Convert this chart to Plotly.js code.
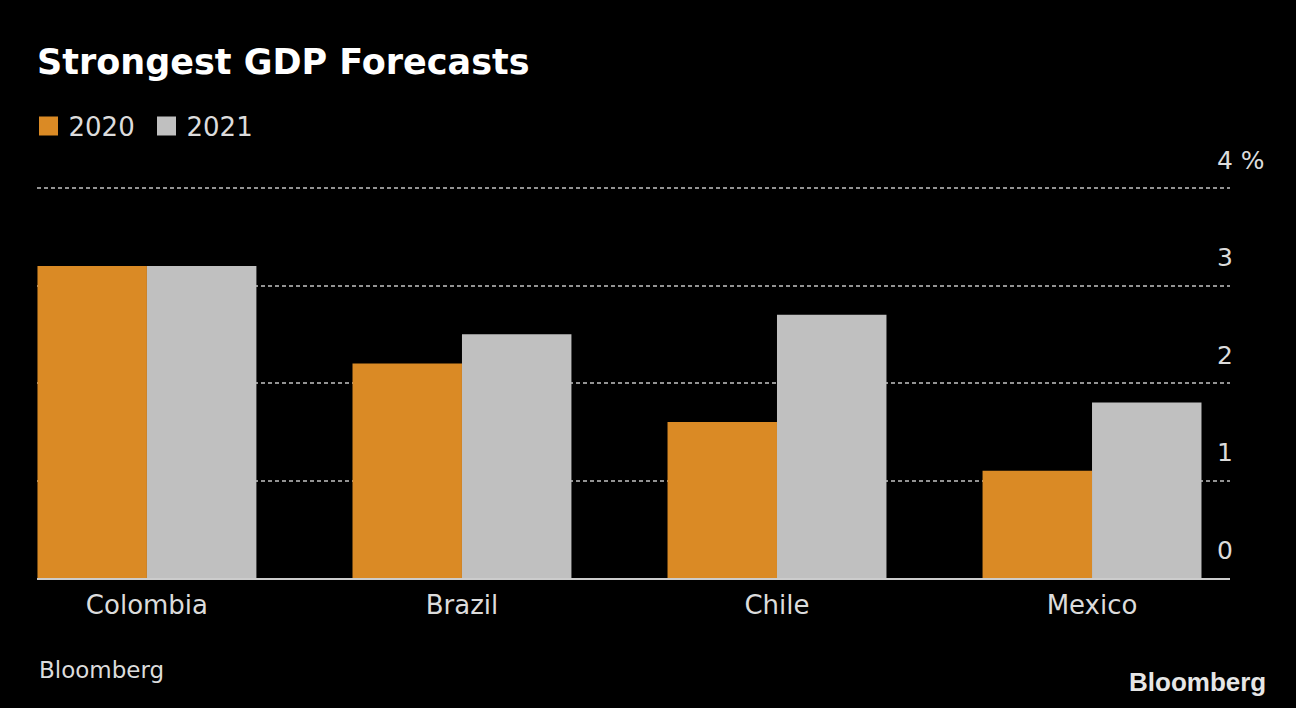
<!DOCTYPE html>
<html>
<head>
<meta charset="utf-8">
<script src="https://cdn.plot.ly/plotly-3.0.1.min.js"></script>
<style>html,body{margin:0;padding:0;background:#000;}#chart{width:1296px;height:708px;}</style>
</head>
<body>
<div id="chart"></div>
<script>
const countries = ["Colombia", "Brazil", "Chile", "Mexico"];
const gdp2020 = [3.2, 2.2, 1.6, 1.1];
const gdp2021 = [3.2, 2.5, 2.7, 1.8];
const seriesNames = ["2020", "2021"];
const yTicks = [0, 1, 2, 3, 4];
const yTickLabels = ["0", "1", "2", "3", "4 %"];

const ORANGE = "#da8a25";
const GRAY = "#c0c0c0";
const BODY = "DejaVu Sans, Verdana, sans-serif";

const traces = [
  {type: "bar", x: countries, y: gdp2020, name: seriesNames[0], marker: {color: ORANGE, line: {width: 0}}, showlegend: false, hoverinfo: "x+y+name"},
  {type: "bar", x: countries, y: gdp2021, name: seriesNames[1], marker: {color: GRAY, line: {width: 0}}, showlegend: false, hoverinfo: "x+y+name"},
  // legend proxies (larger square swatches)
  {type: "scatter", mode: "markers", x: [null], y: [null], name: seriesNames[0], marker: {symbol: "square", size: 16, color: ORANGE, line: {color: ORANGE, width: 3}}, hoverinfo: "skip"},
  {type: "scatter", mode: "markers", x: [null], y: [null], name: seriesNames[1], marker: {symbol: "square", size: 16, color: GRAY, line: {color: GRAY, width: 3}}, hoverinfo: "skip"}
];

const annotations = yTicks.map((v, i) => ({
  xref: "paper", yref: "y", x: 0.9875, y: v, xanchor: "left", yanchor: "middle",
  yshift: 28, text: yTickLabels[i], showarrow: false,
  font: {family: BODY, size: 25, color: "#dcdcdc"}
}));
annotations.push({
  xref: "paper", yref: "paper", x: 0, y: -0.232, xanchor: "left", yanchor: "middle",
  text: "Bloomberg", showarrow: false, font: {family: BODY, size: 23, color: "#dcdcdc"}
});
annotations.push({
  xref: "paper", yref: "paper", x: 1.0319, y: -0.263, xanchor: "right", yanchor: "middle",
  text: "<b>Bloomberg</b>", showarrow: false, font: {family: "Liberation Sans, Arial, sans-serif", size: 26, color: "#e6e6e6"}
});

const layout = {
  width: 1296, height: 708,
  paper_bgcolor: "#000", plot_bgcolor: "#000",
  margin: {l: 37, r: 66, t: 182, b: 130},
  title: {
    text: "<b>Strongest GDP Forecasts</b>",
    x: 0, xref: "paper", xanchor: "left",
    y: 1 - 62 / 708, yref: "container", yanchor: "middle",
    font: {family: BODY, size: 35, color: "#ffffff"}
  },
  showlegend: true,
  legend: {
    orientation: "h", xref: "container", yref: "container",
    x: 0.022, y: 1 - 126 / 708, xanchor: "left", yanchor: "middle",
    font: {family: BODY, size: 26, color: "#dcdcdc"},
    bgcolor: "rgba(0,0,0,0)", itemclick: false, itemdoubleclick: false,
    tracegroupgap: 0, entrywidth: 73
  },
  barmode: "group", bargap: 0.305, bargroupgap: 0,
  xaxis: {
    type: "category", range: [-0.349, 3.438], fixedrange: true,
    showgrid: false, zeroline: false,
    showline: true, linecolor: "#cccccc", linewidth: 2, layer: "above traces",
    ticks: "", tickfont: {family: BODY, size: 26, color: "#dcdcdc"},
    ticklabelstandoff: 3
  },
  yaxis: {
    range: [0, 4.062], fixedrange: true, tickvals: yTicks, showticklabels: false,
    showgrid: true, gridcolor: "#939393", gridwidth: 2, griddash: "4px,3px",
    zeroline: false, ticks: ""
  },
  annotations: annotations
};

Plotly.newPlot("chart", traces, layout, {displayModeBar: false, staticPlot: false});
</script>
</body>
</html>
